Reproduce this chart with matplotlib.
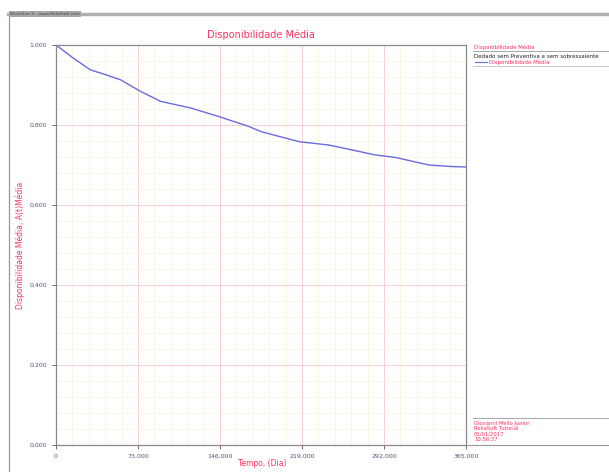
import matplotlib
matplotlib.use("Agg")
from matplotlib import pyplot as plt
from matplotlib.ticker import FuncFormatter
from matplotlib.lines import Line2D

# mean availability (time in days)
tempo = [0, 15000, 30500, 45000, 57400, 75300, 93300, 120000, 144000, 171000, 183000,
         217000, 242700, 284600, 302000, 332000, 353000, 365000]
disp_media = [1.000, 0.968, 0.938, 0.925, 0.913, 0.884, 0.859, 0.8425, 0.822, 0.797, 0.783,
              0.758, 0.750, 0.725, 0.719, 0.700, 0.696, 0.695]

x_ticks = [0, 73000, 146000, 219000, 292000, 365000]
y_ticks = [0.0, 0.2, 0.4, 0.6, 0.8, 1.0]

titulo = "Disponibilidade Média"
legenda_topo = ["Disponibilidade Média", "Dedado sem Preventiva e sem sobressalente",
                "Disponibilidade Média"]
legenda_base = ["Giovanni Mello Junior", "ReliaSoft Tutorial", "01/01/2017", "10:56:37"]

red = "#ff3060"
blue = "#6a6adf"
tick_col = "#505080"

fig = plt.figure(figsize=(6.09, 4.72), dpi=100)
W, H = 609, 472

def fx(px):
    return px / W

def fy(py):
    return 1 - py / H

ax = fig.add_axes([fx(56), fy(445), fx(466) - fx(56), fy(45) - fy(445)])
ax.plot(tempo, disp_media, color=blue, lw=1.0)
ax.set_xlim(0, 365000)
ax.set_ylim(0, 1)
ax.set_xticks(x_ticks)
ax.set_yticks(y_ticks)
ax.set_xticks([i * 14600 for i in range(26) if i % 5], minor=True)
ax.set_yticks([i * 0.04 for i in range(26) if i % 5], minor=True)
ax.xaxis.set_major_formatter(FuncFormatter(lambda v, p: "0" if v == 0 else f"{v:,.0f}"))
ax.yaxis.set_major_formatter(FuncFormatter(lambda v, p: f"{v:.3f}".replace(".", ",")))
ax.tick_params(labelsize=4.5, colors=tick_col, length=3, width=0.6)
ax.tick_params(which="minor", length=0)
ax.grid(which="minor", color="#f3f6d8", lw=0.5)
ax.grid(which="major", color="#f6c8cc", lw=0.6)
for s in ax.spines.values():
    s.set_color("#888888")
    s.set_linewidth(0.9)
ax.set_axisbelow(True)

ax.set_title(titulo, color=red, fontsize=7, pad=5)
fig.text(fx(20), fy(245), "Disponibilidade Média, A(t)Média", color=red, fontsize=5.5,
         rotation=90, ha="center", va="center")
fig.text(fx(262), fy(463), "Tempo, (Dia)", color=red, fontsize=5.5, ha="center", va="center")

# outer frame and header bar
fig.add_artist(Line2D([fx(9), fx(9)], [fy(14), fy(472)], color="#999999", lw=0.9))
fig.add_artist(Line2D([fx(8), fx(609)], [fy(14), fy(14)], color="#b0b0b0", lw=2.5))
fig.text(fx(10), fy(14), "BlockSim 9 - www.ReliaSoft.com", fontsize=3.2, color="#444444",
         va="center", ha="left",
         bbox=dict(facecolor="#a8a8a8", edgecolor="none", pad=0.6))

# legend panel
fig.text(fx(474), fy(47), legenda_topo[0], color=red, fontsize=4, va="center")
fig.add_artist(Line2D([fx(473), fx(609)], [fy(51), fy(51)], color="#999999", lw=0.6))
fig.text(fx(474), fy(56), legenda_topo[1], color="#222222", fontsize=4, va="center")
fig.add_artist(Line2D([fx(475), fx(487)], [fy(62), fy(62)], color=blue, lw=0.8))
fig.text(fx(489), fy(62), legenda_topo[2], color=red, fontsize=4, va="center")
fig.add_artist(Line2D([fx(473), fx(609)], [fy(66), fy(66)], color="#bbbbbb", lw=0.6))

fig.add_artist(Line2D([fx(473), fx(609)], [fy(418), fy(418)], color="#999999", lw=0.6))
for i, t in enumerate(legenda_base):
    fig.text(fx(474), fy(423 + i * 5.5), t, color=red, fontsize=3.8, va="center")
fig.add_artist(Line2D([fx(466), fx(609)], [fy(445), fy(445)], color="#999999", lw=0.8))

fig.savefig("out.png", dpi=100)
